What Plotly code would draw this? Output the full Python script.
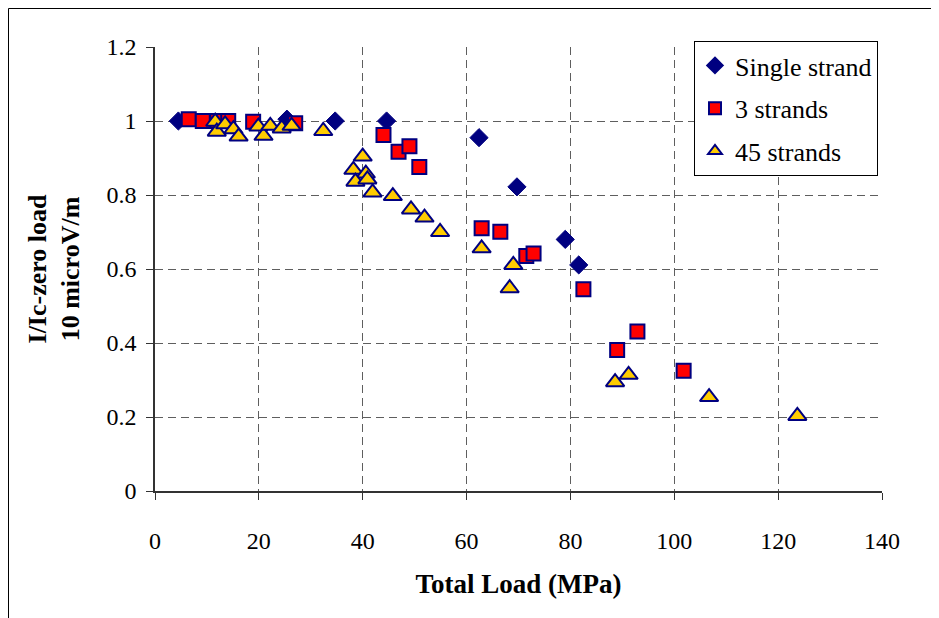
import plotly.graph_objects as go

# ---- data ----
single_x = [4.5, 25.4, 34.7, 44.6, 62.4, 69.7, 79.0, 81.6]
single_y = [1.0, 1.005, 1.0, 1.0, 0.955, 0.822, 0.680, 0.611]

three_x = [6.5, 9.2, 12.0, 14.1, 18.9, 27.0, 44.0, 46.9, 49.0, 50.9,
           62.9, 66.5, 71.5, 72.9, 82.5, 89.0, 92.9, 101.8]
three_y = [1.005, 1.0, 1.0, 1.0, 0.998, 0.994, 0.962, 0.917, 0.932, 0.876,
           0.710, 0.701, 0.635, 0.642, 0.545, 0.381, 0.431, 0.325]

f45_x = [11.6, 11.9, 13.5, 15.1, 16.1, 19.9, 20.9, 22.2, 24.4, 26.3,
         32.4, 40.0, 38.2, 40.6, 38.6, 40.9, 41.9, 45.8, 49.3, 51.9,
         54.9, 62.9, 69.0, 68.3, 88.6, 91.2, 106.7, 123.7]
f45_y = [0.998, 0.971, 0.991, 0.978, 0.958, 0.985, 0.960, 0.987, 0.980, 0.987,
         0.973, 0.904, 0.868, 0.858, 0.836, 0.842, 0.807, 0.797, 0.761, 0.739,
         0.700, 0.656, 0.611, 0.548, 0.294, 0.314, 0.254, 0.203]

series_names = ["Single strand", "3 strands", "45 strands"]
x_ticks = [0, 20, 40, 60, 80, 100, 120, 140]
y_ticks = [0, 0.2, 0.4, 0.6, 0.8, 1.0, 1.2]
y_tick_text = ["0", "0.2", "0.4", "0.6", "0.8", "1", "1.2"]

NAVY = "#000080"
FONT = "Liberation Serif"

fig = go.Figure()
fig.add_trace(go.Scatter(
    x=single_x, y=single_y, mode="markers", name=series_names[0], legendgroup="a",
    marker=dict(symbol="diamond", size=14, color=NAVY, line=dict(color=NAVY, width=1)),
))
fig.add_trace(go.Scatter(
    x=three_x, y=three_y, mode="markers", name=series_names[1], legendgroup="b",
    marker=dict(symbol="square", size=14, color="#FF0000", line=dict(color=NAVY, width=2)),
))
fig.add_trace(go.Scatter(
    x=f45_x, y=f45_y, mode="markers", name=series_names[2], legendgroup="c",
    marker=dict(symbol="triangle-up", size=16, color="#FFCC00", line=dict(color=NAVY, width=2)),
))

# page offset of 8px (browser body margin) is taken into account
OFF = 8
W, H = 939, 618
L, T = 155 - OFF, 47 - OFF
R = W - (882 - OFF)
B = H - (491 - OFF)
pw, ph = W - L - R, H - T - B

def px(xp):
    return (xp - OFF - L) / pw

def py(yp):
    return (H - B - (yp - OFF)) / ph

fig.update_layout(
    width=W, height=H,
    margin=dict(l=L, r=R, t=T, b=B, autoexpand=False),
    paper_bgcolor="white", plot_bgcolor="white",
    font=dict(family=FONT, color="black", size=24),
    showlegend=True,
    legend=dict(
        x=px(694), y=py(41), xanchor="left", yanchor="top",
        bgcolor="white", bordercolor="black", borderwidth=1,
        font=dict(family=FONT, size=26, color="black"),
        tracegroupgap=6, itemsizing="constant",
    ),
    xaxis=dict(
        range=[0, 140], tickvals=x_ticks, ticktext=[str(v) for v in x_ticks],
        showline=True, linecolor="#333333", linewidth=1.5,
        ticks="outside", ticklen=7, tickcolor="#333333",
        showgrid=True, gridcolor="#5e5e5e", griddash="8px,5px", gridwidth=1,
        zeroline=False, ticklabelstandoff=20,
        tickfont=dict(family=FONT, size=24),
        title=dict(text="<b>Total Load (MPa)</b>", font=dict(family=FONT, size=27), standoff=22),
    ),
    yaxis=dict(
        range=[0, 1.2], tickvals=y_ticks, ticktext=y_tick_text,
        showline=True, linecolor="#333333", linewidth=1.5,
        ticks="outside", ticklen=7, tickcolor="#333333",
        showgrid=True, gridcolor="#5e5e5e", griddash="8px,5px", gridwidth=1,
        zeroline=False, ticklabelstandoff=5,
        tickfont=dict(family=FONT, size=24),
        title=dict(text="<b>I/Ic-zero load<br>10 microV/m</b>", font=dict(family=FONT, size=26), standoff=19),
    ),
    shapes=[
        dict(type="rect", xref="paper", yref="paper",
             x0=px(8.5), x1=px(980), y0=py(680), y1=py(8.5),
             line=dict(color="black", width=1), fillcolor="rgba(0,0,0,0)", layer="below"),
    ],
)

fig.write_html("out.html")
